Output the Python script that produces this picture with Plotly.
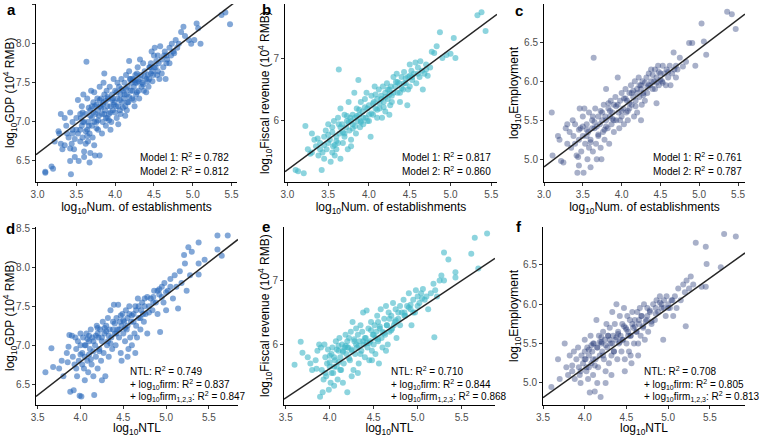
import plotly.graph_objects as go

# ---------------- data ----------------
# panel a: log10 Num. of establishments vs log10 GDP
a_x = [3.1,3.1,3.18,3.2,3.22,3.28,3.3,3.32,3.3,3.35,3.37,3.35,3.27,3.38,3.4,3.42,3.43,3.42,3.45,3.44,3.47,3.45,3.48,3.5,3.48,3.42,
       3.52,3.53,3.55,3.55,3.57,3.58,3.58,3.6,3.57,3.52,3.55,3.59,3.6,3.56,3.62,3.63,3.64,3.65,3.65,3.67,3.67,3.68,3.68,3.7,3.62,3.66,3.69,3.64,3.7,
       3.71,3.72,3.73,3.73,3.74,3.75,3.76,3.77,3.78,3.78,3.8,3.8,3.76,3.79,3.73,3.81,3.82,3.83,3.84,3.85,3.86,3.86,3.87,3.88,3.89,3.9,3.83,3.88,3.85,3.9,
       3.91,3.92,3.93,3.94,3.95,3.96,3.97,3.98,3.99,4.0,3.94,3.97,4.01,4.02,4.03,4.04,4.05,4.06,4.07,4.08,4.09,4.1,4.03,4.07,
       4.11,4.12,4.13,4.14,4.15,4.16,4.17,4.18,4.19,4.2,4.15,4.18,4.21,4.22,4.23,4.24,4.25,4.26,4.27,4.28,4.29,4.3,4.25,
       4.31,4.33,4.35,4.36,4.37,4.38,4.4,4.32,4.42,4.43,4.45,4.46,4.47,4.48,4.5,4.44,4.49,4.51,4.52,4.53,4.55,4.57,4.58,4.6,4.55,
       4.62,4.63,4.65,4.66,4.67,4.7,4.64,4.72,4.73,4.75,4.78,4.82,4.85,4.88,4.9,4.95,4.98,5.02,5.05,5.07,5.1,5.37,5.42,5.48,
       3.58,3.62,3.66,3.7,3.74,3.78,3.82,3.86,3.9,3.94,3.98,4.02,4.06,4.1,4.14,4.18,4.22,4.26,4.3,4.34,4.38,4.42,4.46,4.5,4.54,
       3.6,3.68,3.76,3.84,3.92,4.0,4.08,4.16,4.24,4.32,4.4,4.48,
       3.64,3.72,3.8,3.88,3.96,4.04,4.12,4.2,4.28,4.36,4.44,
       3.45,3.5,4.56,4.6,4.66,4.7,4.76,4.8,4.28,4.13]
a_y = [6.35,6.36,6.43,6.4,6.75,6.85,7.1,6.65,6.72,7.05,6.95,6.7,6.88,6.85,6.8,6.5,6.33,7.12,7.0,6.72,6.65,6.9,6.55,7.05,6.78,6.66,
       7.28,6.5,7.1,6.9,7.2,6.8,7.0,6.62,6.95,6.85,6.75,7.35,6.55,7.05,6.72,7.77,7.3,6.75,7.0,6.48,6.85,7.15,6.6,7.2,7.1,6.95,7.4,6.9,7.05,
       6.8,7.25,6.7,7.38,6.57,7.1,7.0,7.3,6.9,7.15,7.45,6.57,7.22,7.08,7.0,7.2,7.3,7.1,7.0,7.25,7.62,7.35,7.15,6.95,7.4,7.2,6.85,7.27,7.5,7.05,
       7.3,7.1,7.45,7.2,7.0,7.35,7.15,7.55,7.25,7.4,6.9,7.3,7.2,7.05,7.3,6.97,7.45,7.15,7.35,7.55,7.25,7.4,7.5,7.1,
       7.3,7.5,7.2,7.6,7.35,7.45,7.25,7.78,7.55,7.4,7.15,7.65,7.5,7.3,7.55,7.45,7.2,7.6,7.35,7.5,7.7,7.4,7.53,
       7.3,7.6,7.5,7.75,7.4,7.65,7.55,7.8,7.6,7.45,7.7,7.75,7.9,7.65,7.85,7.55,7.6,7.95,7.7,7.78,7.65,7.55,7.97,7.8,7.85,
       7.7,7.85,7.55,7.75,7.8,7.95,7.9,7.85,8.0,7.9,8.05,8.0,8.15,8.22,8.1,8.05,8.0,8.05,8.26,8.2,8.0,8.37,8.4,8.25,
       7.12,6.88,7.18,6.95,7.2,7.02,7.18,7.1,7.32,7.12,7.22,7.38,7.28,7.18,7.42,7.32,7.4,7.5,7.52,7.45,7.58,7.52,7.62,7.7,7.6,
       7.0,7.08,6.92,7.22,7.02,7.12,7.42,7.25,7.28,7.55,7.38,7.52,
       6.82,7.12,7.28,7.05,7.28,7.2,7.35,7.55,7.38,7.48,7.7,
       6.85,6.9,7.75,7.62,7.85,7.75,7.88,7.95,7.62,7.08]

# panel b: log10 Num. of establishments vs log10 Fiscal revenue
b_x = [3.1,3.13,3.2,3.22,3.25,3.28,3.3,3.3,3.33,3.35,3.37,3.38,3.4,3.42,3.43,3.45,3.47,3.48,3.5,3.45,3.5,
       3.52,3.53,3.55,3.56,3.57,3.58,3.6,3.6,3.62,3.63,3.64,3.65,3.65,3.67,3.68,3.7,3.7,3.55,3.62,
       3.72,3.73,3.74,3.75,3.76,3.77,3.78,3.8,3.8,3.82,3.83,3.84,3.85,3.86,3.87,3.88,3.89,3.9,3.9,3.78,
       3.92,3.93,3.95,3.96,3.97,3.98,4.0,4.0,4.02,4.03,4.05,4.06,4.07,4.08,4.1,4.1,
       4.12,4.13,4.15,4.16,4.17,4.18,4.2,4.2,4.22,4.23,4.25,4.26,4.27,4.28,4.3,4.25,
       4.32,4.34,4.35,4.37,4.38,4.4,4.42,4.43,4.45,4.47,4.48,4.5,4.5,
       4.52,4.53,4.55,4.57,4.58,4.6,4.62,4.63,4.65,4.66,4.68,4.7,
       4.72,4.75,4.77,4.8,4.83,4.87,4.9,4.95,5.0,5.04,5.06,5.33,5.38,5.43,
       3.55,3.6,3.65,3.7,3.75,3.8,3.85,3.9,3.95,4.0,4.05,4.1,4.15,4.2,4.25,4.3,4.35,4.4,4.45,4.5,
       3.58,3.63,3.68,3.73,3.78,3.83,3.88,3.93,3.98,4.03,4.08,4.13,4.18,4.23,4.28,4.33,4.38,4.43,4.48,4.53,4.6,4.7,3.4,3.45,3.5]
b_y = [5.22,5.2,5.17,5.92,5.55,5.48,5.8,5.5,5.7,5.6,5.72,5.45,5.65,5.22,5.5,5.75,5.85,5.55,5.95,5.4,5.65,
       5.7,5.35,5.9,5.6,6.0,5.45,5.75,5.55,6.05,6.82,5.8,6.2,5.4,5.95,5.65,6.1,5.8,5.5,5.65,
       5.9,6.0,5.55,6.3,5.85,6.05,5.7,6.1,5.95,6.45,6.05,5.8,6.2,6.0,6.65,6.1,5.9,6.3,6.0,5.6,
       6.15,5.95,6.35,6.05,6.45,6.2,6.0,6.25,5.75,6.4,6.1,6.3,6.55,6.2,6.35,6.05,
       6.5,6.2,6.4,6.05,6.55,6.3,6.45,6.15,6.6,6.35,6.5,6.25,6.55,6.4,6.7,6.1,
       6.55,6.75,6.45,6.6,6.3,6.7,6.5,6.78,6.6,6.25,6.7,6.55,6.9,
       6.8,6.65,6.75,6.93,6.6,6.85,6.7,6.95,6.8,6.5,6.75,6.9,
       6.72,6.85,7.1,7.08,7.19,7.41,7.0,7.05,7.07,7.32,7.0,7.68,7.73,7.43,
       5.82,5.68,5.9,5.75,5.98,5.88,6.08,5.98,6.22,6.1,6.28,6.18,6.35,6.38,6.42,6.45,6.62,6.52,6.68,6.72,
       5.62,5.95,5.82,6.08,6.0,5.92,6.18,6.05,6.0,6.12,6.42,6.28,6.22,6.5,6.3,6.62,6.45,6.6,6.5,6.7,6.75,6.82,5.55,5.62,5.78]

# panel c: log10 Num. of establishments vs log10 Employment
c_x = [3.1,3.11,3.18,3.2,3.22,3.25,3.28,3.3,3.3,3.33,3.35,3.37,3.38,3.4,3.42,3.43,3.44,3.45,3.46,3.47,3.48,3.5,3.5,3.45,
       3.51,3.52,3.53,3.55,3.56,3.57,3.58,3.6,3.6,3.62,3.63,3.64,3.65,3.66,3.67,3.68,3.7,3.7,3.55,3.62,
       3.72,3.73,3.75,3.76,3.77,3.78,3.8,3.8,3.82,3.83,3.84,3.85,3.86,3.87,3.88,3.9,3.9,3.74,3.79,
       3.92,3.93,3.95,3.96,3.97,3.98,4.0,4.0,4.02,4.03,4.05,4.06,4.07,4.08,4.1,4.1,
       4.12,4.13,4.15,4.16,4.17,4.18,4.2,4.2,4.22,4.23,4.25,4.26,4.27,4.28,4.3,4.25,
       4.32,4.33,4.35,4.37,4.38,4.4,4.42,4.43,4.45,4.45,4.47,4.48,4.5,
       4.52,4.53,4.55,4.57,4.58,4.6,4.62,4.63,4.65,4.67,4.68,4.7,
       4.72,4.75,4.79,4.83,4.87,4.91,4.95,5.03,5.06,5.09,5.36,5.42,5.47,
       3.55,3.6,3.65,3.7,3.75,3.8,3.85,3.9,3.95,4.0,4.05,4.1,4.15,4.2,4.25,4.3,4.35,4.4,4.45,4.5,
       3.58,3.63,3.68,3.73,3.78,3.83,3.88,3.93,3.98,4.03,4.08,4.13,4.18,4.23,4.28,4.33,4.38,4.43,4.48,4.53,4.6,4.7,3.4,3.45,3.5]
c_y = [5.6,5.05,5.3,5.25,4.98,4.96,5.4,5.2,5.45,5.35,5.15,5.5,5.3,5.45,5.05,4.83,5.03,5.25,5.65,5.4,5.1,5.55,5.3,4.92,
       4.83,5.65,5.2,5.45,5.0,5.35,5.6,5.25,4.9,5.5,5.1,6.3,5.4,5.65,5.2,5.0,5.55,5.3,5.3,5.4,
       5.45,5.15,5.6,5.35,5.7,5.25,5.5,5.9,5.4,5.65,5.2,5.55,5.75,5.45,5.6,5.35,5.7,5.0,5.55,
       5.8,5.5,6.05,5.6,5.4,5.75,5.55,5.85,5.65,5.45,5.9,5.6,5.75,5.5,5.85,5.65,
       5.95,5.7,5.8,5.55,6.0,5.75,5.9,5.6,6.05,5.8,5.95,5.7,6.0,5.85,5.75,5.5,
       6.05,5.85,6.1,5.95,6.15,5.9,6.0,6.15,6.05,5.72,6.2,5.95,6.1,
       6.0,6.2,6.1,5.95,6.15,6.05,6.2,5.95,6.1,6.37,6.15,6.05,
       6.15,6.3,6.19,6.25,6.49,6.49,6.2,6.74,6.51,6.34,6.89,6.86,6.67,
       5.38,5.22,5.48,5.32,5.5,5.42,5.62,5.5,5.7,5.62,5.78,5.72,5.88,5.85,5.9,5.98,5.95,6.08,5.98,6.02,
       5.15,5.55,5.42,5.62,5.38,5.72,5.52,5.68,5.5,5.78,5.62,5.85,5.68,5.95,5.82,5.92,6.0,5.9,6.12,5.98,6.12,6.2,5.2,5.38,5.42]

# panel d: log10 NTL vs log10 GDP
d_x = [3.59,3.66,3.68,3.75,3.78,3.8,3.84,3.86,3.87,3.88,3.9,3.91,3.92,3.93,3.95,3.96,3.97,3.98,3.99,4.0,3.94,
       4.01,4.02,4.03,4.04,4.05,4.06,4.07,4.08,4.09,4.1,4.11,4.12,4.13,4.14,4.15,4.16,4.17,4.18,4.19,4.2,4.05,4.15,
       4.21,4.22,4.23,4.24,4.25,4.26,4.27,4.28,4.29,4.3,4.31,4.32,4.33,4.34,4.35,4.36,4.37,4.38,4.39,4.4,4.25,4.32,
       4.41,4.42,4.43,4.44,4.45,4.46,4.47,4.48,4.49,4.5,4.51,4.52,4.53,4.54,4.55,4.56,4.57,4.58,4.59,4.6,4.48,4.55,
       4.62,4.63,4.64,4.65,4.66,4.67,4.68,4.7,4.71,4.72,4.74,4.75,4.76,4.78,4.8,4.64,
       4.82,4.84,4.86,4.88,4.9,4.92,4.93,4.95,4.97,5.0,4.98,
       5.02,5.05,5.08,5.1,5.12,5.14,5.16,5.18,5.21,5.22,5.24,5.26,5.28,5.3,
       5.38,5.38,5.38,5.45,5.6,5.6,5.72,5.65,
       4.0,4.05,4.1,4.15,4.2,4.25,4.3,4.35,4.4,4.45,4.5,4.55,4.6,4.65,4.7,4.75,4.8,4.85,4.9,4.95,
       4.02,4.08,4.12,4.18,4.22,4.28,4.33,4.38,4.42,4.47,4.52,4.57,4.62,4.68,4.73,4.78,4.85,4.92,5.0,5.05,3.85,3.95,4.0,4.1,4.2]
d_y = [6.65,6.96,6.72,6.7,6.8,6.6,6.9,6.98,7.13,6.4,7.12,6.85,6.42,6.75,6.95,6.6,7.05,6.8,6.35,7.15,7.1,
       6.34,6.9,7.1,6.7,6.55,7.0,7.15,6.8,6.65,7.05,6.95,7.2,6.75,7.1,6.6,6.36,7.0,6.85,7.25,6.7,6.85,6.92,
       7.1,6.95,7.2,6.8,7.05,7.3,6.9,7.15,6.6,7.25,7.0,7.35,6.85,7.2,7.45,7.1,6.95,7.3,7.52,7.15,6.55,7.05,
       7.0,7.35,7.2,7.52,7.1,7.3,6.9,7.25,7.4,7.15,7.3,7.05,7.45,7.2,7.35,6.95,7.5,7.1,7.3,7.0,6.8,6.85,
       7.4,7.15,7.5,7.25,7.1,7.6,7.35,7.2,7.45,7.55,7.3,7.6,7.4,7.15,7.5,6.9,
       7.6,7.45,7.7,7.55,7.4,7.65,7.17,7.75,7.55,7.45,7.8,
       7.7,7.85,7.6,7.9,7.75,7.47,7.95,7.8,8.16,8.05,7.7,8.26,7.9,8.2,
       8.32,8.05,7.91,8.1,8.23,8.41,8.41,8.15,
       6.88,7.0,6.88,7.05,7.15,7.1,7.18,7.02,7.28,7.2,7.32,7.25,7.38,7.45,7.35,7.5,7.42,7.62,7.7,7.62,
       6.75,7.08,6.82,7.12,6.92,7.22,7.12,7.2,7.15,7.38,7.22,7.4,7.3,7.5,7.4,7.62,7.55,7.72,7.68,7.75,6.78,6.7,7.0,7.12,7.22]

# panel e: log10 NTL vs log10 Fiscal revenue
e_x = [3.6,3.67,3.69,3.75,3.8,3.78,3.84,3.86,3.88,3.89,3.9,3.91,3.92,3.93,3.95,3.96,3.97,3.98,3.99,4.0,3.94,
       4.01,4.02,4.03,4.04,4.05,4.06,4.07,4.08,4.09,4.1,4.11,4.12,4.13,4.14,4.15,4.16,4.17,4.18,4.19,4.2,4.05,4.15,
       4.21,4.22,4.23,4.24,4.25,4.26,4.27,4.28,4.29,4.3,4.31,4.32,4.33,4.34,4.35,4.36,4.37,4.38,4.39,4.4,4.25,4.32,
       4.41,4.42,4.43,4.44,4.45,4.46,4.47,4.48,4.49,4.5,4.51,4.52,4.53,4.54,4.55,4.56,4.57,4.58,4.59,4.6,4.48,4.55,
       4.62,4.63,4.64,4.65,4.66,4.67,4.68,4.7,4.71,4.72,4.74,4.75,4.76,4.78,4.8,4.64,
       4.82,4.84,4.86,4.88,4.9,4.92,4.93,4.95,4.97,5.0,4.98,
       5.02,5.04,5.06,5.08,5.1,5.12,5.15,5.18,5.19,5.2,5.22,5.25,5.27,5.3,
       5.3,5.35,5.43,5.43,5.61,5.65,5.69,5.79,
       4.0,4.05,4.1,4.15,4.2,4.25,4.3,4.35,4.4,4.45,4.5,4.55,4.6,4.65,4.7,4.75,4.8,4.85,4.9,4.95,
       4.02,4.08,4.12,4.18,4.22,4.28,4.33,4.38,4.42,4.47,4.52,4.57,4.62,4.68,4.73,4.78,4.85,4.92,5.0,5.05,3.85,3.95,4.0,4.1,4.2]
e_y = [5.68,6.04,5.87,5.8,5.6,5.7,5.75,5.9,6.0,5.18,5.95,5.6,5.25,5.45,5.8,5.5,5.7,5.92,5.29,5.65,6.0,
       5.4,5.85,5.95,5.55,5.35,5.75,6.05,5.65,5.45,5.9,6.1,5.8,5.6,6.0,5.4,5.7,5.95,6.15,5.85,5.25,5.65,5.9,
       5.95,6.1,5.75,6.2,5.9,6.35,5.6,6.05,5.85,6.25,5.95,6.15,5.7,6.05,6.3,5.9,6.2,6.5,6.0,5.8,5.5,5.55,
       6.1,6.53,5.95,6.25,5.75,6.05,6.35,5.9,6.15,6.0,6.3,5.85,6.2,6.45,6.05,5.7,6.25,6.55,6.1,5.95,5.75,6.35,
       6.4,6.15,6.6,6.3,6.0,6.5,6.2,6.45,6.25,6.65,6.35,6.55,6.1,6.4,6.6,5.9,
       6.5,6.7,6.45,6.6,6.8,6.55,6.3,6.7,6.5,6.75,6.85,
       6.65,6.8,6.87,6.7,6.75,6.55,6.8,6.95,6.11,6.85,6.75,7.0,7.08,7.0,
       7.44,7.33,7.13,7.05,7.42,7.67,7.19,7.74,
       5.72,5.8,5.72,5.88,5.95,5.92,6.0,5.85,6.1,6.02,6.15,6.08,6.2,6.3,6.22,6.38,6.3,6.5,6.58,6.5,
       5.55,5.92,5.6,5.98,5.78,6.08,5.98,6.05,6.02,6.22,6.1,6.28,6.18,6.4,6.3,6.5,6.45,6.62,6.6,6.72,5.62,5.55,5.82,5.98,6.05]

# panel f: log10 NTL vs log10 Employment
f_x = [3.6,3.68,3.7,3.76,3.78,3.8,3.82,3.85,3.87,3.88,3.9,3.92,3.93,3.95,3.96,3.98,4.0,3.94,
       4.01,4.02,4.03,4.04,4.05,4.06,4.07,4.08,4.09,4.1,4.11,4.12,4.13,4.14,4.15,4.16,4.17,4.18,4.19,4.2,4.05,4.15,
       4.21,4.22,4.23,4.24,4.25,4.26,4.27,4.28,4.29,4.3,4.31,4.32,4.33,4.34,4.35,4.36,4.37,4.38,4.39,4.4,4.25,4.32,
       4.41,4.42,4.43,4.44,4.45,4.46,4.47,4.48,4.49,4.5,4.51,4.52,4.53,4.54,4.55,4.56,4.57,4.58,4.59,4.6,4.48,4.55,
       4.62,4.63,4.64,4.65,4.66,4.67,4.68,4.7,4.71,4.72,4.74,4.75,4.76,4.78,4.8,4.64,
       4.82,4.84,4.86,4.88,4.9,4.92,4.94,4.95,4.97,5.0,4.98,
       5.02,5.04,5.06,5.08,5.1,5.12,5.15,5.18,5.21,5.2,5.22,5.25,5.27,5.3,
       5.33,5.4,5.45,5.46,5.45,5.63,5.67,5.81,
       4.0,4.05,4.1,4.15,4.2,4.25,4.3,4.35,4.4,4.45,4.5,4.55,4.6,4.65,4.7,4.75,4.8,4.85,4.9,4.95,
       4.02,4.08,4.12,4.18,4.22,4.28,4.33,4.38,4.42,4.47,4.52,4.57,4.62,4.68,4.73,4.78,4.85,4.92,5.0,5.05,3.85,3.95,4.0,4.1,4.2]
f_y = [4.95,5.3,5.05,5.5,5.2,5.1,5.35,5.15,5.4,5.05,5.3,5.45,5.2,5.0,5.35,5.25,5.55,5.1,
       5.3,5.15,5.45,5.05,5.35,4.88,5.6,5.25,5.4,5.1,5.5,4.89,5.3,5.8,5.45,5.2,5.6,5.35,4.82,5.5,5.2,5.0,
       5.4,5.65,5.3,5.55,5.15,5.75,5.45,5.6,5.25,5.7,5.5,5.35,5.9,5.6,5.4,5.75,5.55,6.0,5.3,5.65,5.0,5.1,
       5.5,5.85,5.6,5.4,5.75,5.55,5.95,5.3,5.7,5.5,5.85,5.65,5.4,5.8,5.6,5.25,5.9,5.7,5.5,5.8,5.15,5.35,
       5.65,5.9,5.5,5.75,5.95,5.6,5.85,5.7,6.0,5.55,5.8,5.95,5.65,5.9,5.75,5.35,
       6.0,5.8,6.05,5.9,6.1,5.95,5.55,6.05,5.85,6.0,6.1,
       5.95,6.05,5.85,6.1,5.95,6.2,6.05,6.25,5.72,6.15,6.3,6.2,6.35,6.25,
       6.78,6.22,6.73,6.51,6.22,6.47,6.89,6.86,
       5.3,5.42,5.3,5.45,5.52,5.48,5.55,5.4,5.62,5.55,5.68,5.6,5.72,5.8,5.72,5.85,5.78,5.95,6.02,5.95,
       5.2,5.48,5.22,5.52,5.35,5.6,5.5,5.58,5.52,5.72,5.6,5.75,5.65,5.85,5.78,5.92,5.88,6.0,5.95,6.05,5.22,5.15,5.4,5.5,5.58]

# fitted regression lines (intercept, slope)
fit_a = [4.309, 0.762]
fit_b = [2.336, 0.962]
fit_c = [2.634, 0.756]
fit_d = [3.361, 0.856]
fit_e = [1.944, 0.919]
fit_f = [2.157, 0.759]

# axis ranges and ticks
xr = {"a": [2.98, 5.57], "b": [2.97, 5.57], "c": [3.0, 5.59],
      "d": [3.48, 5.84], "e": [3.48, 5.88], "f": [3.5, 5.92]}
yr = {"a": [6.23, 8.51], "b": [5.03, 7.86], "c": [4.71, 6.99],
      "d": [6.23, 8.52], "e": [5.05, 7.84], "f": [4.72, 6.98]}
yticks = {"a": [6.5, 7.0, 7.5, 8.0, 8.5], "b": [6, 7], "c": [5.0, 5.5, 6.0, 6.5],
          "d": [6.5, 7.0, 7.5, 8.0, 8.5], "e": [6, 7], "f": [5.0, 5.5, 6.0, 6.5]}
ytickfmt = {"a": ".1f", "b": "d", "c": ".1f", "d": ".1f", "e": "d", "f": ".1f"}
xticks_top = [3.0, 3.5, 4.0, 4.5, 5.0, 5.5]
xticks_bot = [3.5, 4.0, 4.5, 5.0, 5.5]

r2_top = {"a": ["0.782", "0.812"], "b": ["0.817", "0.860"], "c": ["0.761", "0.787"]}
r2_bot = {"d": ["0.749", "0.837", "0.847"], "e": ["0.710", "0.844", "0.868"], "f": ["0.708", "0.805", "0.813"]}

ytitles = {"a": "log<sub>10</sub>GDP (10<sup>4</sup> RMB)",
           "b": "log<sub>10</sub>Fiscal revenue (10<sup>4</sup> RMB)",
           "c": "log<sub>10</sub>Employment",
           "d": "log<sub>10</sub>GDP (10<sup>4</sup> RMB)",
           "e": "log<sub>10</sub>Fiscal revenue (10<sup>4</sup> RMB)",
           "f": "log<sub>10</sub>Employment"}
xtitle_top = "log<sub>10</sub>Num. of establishments"
xtitle_bot = "log<sub>10</sub>NTL"

colors = {"a": "rgba(40,104,186,0.58)", "b": "rgba(65,184,200,0.6)", "c": "rgba(38,58,120,0.4)",
          "d": "rgba(40,104,186,0.58)", "e": "rgba(65,184,200,0.6)", "f": "rgba(38,58,120,0.4)"}

data = {"a": (a_x, a_y, fit_a), "b": (b_x, b_y, fit_b), "c": (c_x, c_y, fit_c),
        "d": (d_x, d_y, fit_d), "e": (e_x, e_y, fit_e), "f": (f_x, f_y, fit_f)}

# ---------------- layout geometry (pixels) ----------------
W, H = 759, 437
xdom_px = {"a": (36, 237), "b": (285, 497), "c": (544, 745),
           "d": (36, 238), "e": (284, 495), "f": (543, 745)}
ydom_px = {"a": (4, 182), "b": (4, 182), "c": (4, 182),
           "d": (227, 405), "e": (227, 405), "f": (227, 405)}
ytitle_x = {"a": 10, "b": 265, "c": 515, "d": 10, "e": 265, "f": 515}
letter_pos = {"a": (5, 9), "b": (260, 9), "c": (513, 10), "d": (4, 228), "e": (260, 226), "f": (514, 226)}
top_text_right = {"a": 231, "b": 493, "c": 744}
top_text_rows = [157, 171]
bot_text_left = {"d": 128, "e": 389, "f": 642}
bot_text_rows = [371, 384, 396]

FONT = "Liberation Sans, Arial, Helvetica, sans-serif"


def px2x(p):
    return p / W


def px2y(p):
    return 1 - p / H


fig = go.Figure()
layout = dict(width=W, height=H, margin=dict(l=0, r=0, t=0, b=0, pad=0),
              paper_bgcolor="white", plot_bgcolor="white", showlegend=False,
              font=dict(family=FONT, color="black"))
annotations = []

for i, k in enumerate(["a", "b", "c", "d", "e", "f"]):
    n = i + 1
    xs, ys, fit = data[k]
    xa = "x" if n == 1 else f"x{n}"
    ya = "y" if n == 1 else f"y{n}"
    fig.add_trace(go.Scatter(x=xs, y=ys, mode="markers", xaxis=xa, yaxis=ya,
                             marker=dict(size=6, color=colors[k], line=dict(width=0))))
    lx = xr[k]
    ly = [fit[0] + fit[1] * v for v in lx]
    fig.add_trace(go.Scatter(x=lx, y=ly, mode="lines", xaxis=xa, yaxis=ya,
                             line=dict(color="#262626", width=1.5)))
    top = k in ("a", "b", "c")
    axis_common = dict(showline=True, linecolor="black", linewidth=1, ticks="outside",
                       ticklen=3, tickwidth=1, tickcolor="#333333", showgrid=False, zeroline=False,
                       tickfont=dict(size=10, color="#4d4d4d", family=FONT), automargin=False)
    x0, x1 = xdom_px[k]
    y0, y1 = ydom_px[k]
    layout[f"xaxis{'' if n == 1 else n}"] = dict(
        axis_common, domain=[px2x(x0), px2x(x1)], range=xr[k], anchor=ya,
        tickvals=xticks_top if top else xticks_bot, tickformat=".1f",
        title=dict(text=xtitle_top if top else xtitle_bot, font=dict(size=12, family=FONT), standoff=0))
    layout[f"yaxis{'' if n == 1 else n}"] = dict(
        axis_common, domain=[px2y(y1), px2y(y0)], range=yr[k], anchor=xa,
        tickvals=yticks[k], tickformat=ytickfmt[k])
    # y title
    annotations.append(dict(text=ytitles[k], xref="paper", yref="paper", x=px2x(ytitle_x[k]),
                            y=px2y((y0 + y1) / 2), textangle=-90, showarrow=False,
                            xanchor="center", yanchor="middle", font=dict(size=12, family=FONT)))
    # panel letter
    lp = letter_pos[k]
    annotations.append(dict(text=f"<b>{k}</b>", xref="paper", yref="paper", x=px2x(lp[0]), y=px2y(lp[1]),
                            showarrow=False, xanchor="left", yanchor="middle",
                            font=dict(size=15, family=FONT)))
    if top:
        r = r2_top[k]
        lines = [f"Model 1: R<sup>2</sup> = {r[0]}", f"Model 2: R<sup>2</sup> = {r[1]}"]
        for txt, yy in zip(lines, top_text_rows):
            annotations.append(dict(text=txt, xref="paper", yref="paper", x=px2x(top_text_right[k]),
                                    y=px2y(yy), showarrow=False, xanchor="right", yanchor="middle",
                                    font=dict(size=10, family=FONT)))
    else:
        r = r2_bot[k]
        lines = [f"NTL: R<sup>2</sup> = {r[0]}",
                 f"+ log<sub>10</sub>firm: R<sup>2</sup> = {r[1]}",
                 f"+ log<sub>10</sub>firm<sub>1,2,3</sub>: R<sup>2</sup> = {r[2]}"]
        for txt, yy in zip(lines, bot_text_rows):
            annotations.append(dict(text=txt, xref="paper", yref="paper", x=px2x(bot_text_left[k]),
                                    y=px2y(yy), showarrow=False, xanchor="left", yanchor="middle",
                                    font=dict(size=10, family=FONT)))

layout["annotations"] = annotations
fig.update_layout(**layout)
# remove the browser's default 8px page margin so the figure sits at the window origin
fig.write_html("out.html", config={"displayModeBar": False},
               post_script="document.body.style.margin='0';")
